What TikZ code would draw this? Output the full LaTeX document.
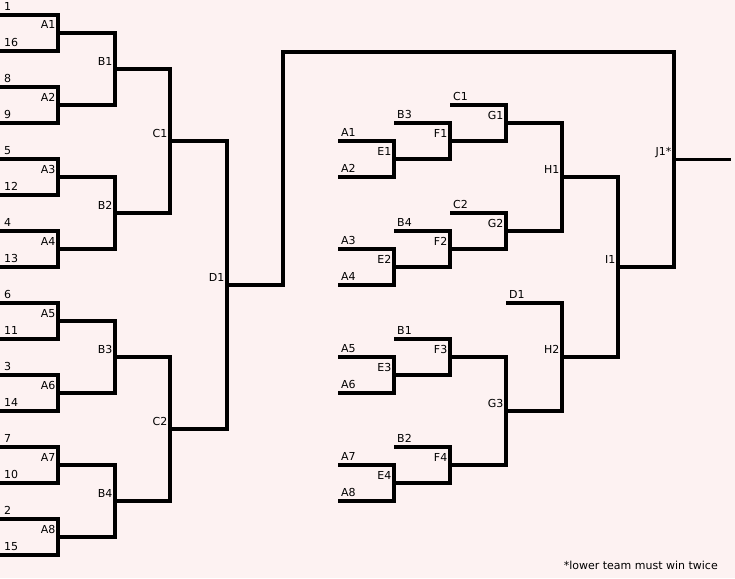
\documentclass[tikz,border=0pt]{standalone}
\usepackage{fontspec}
\setmainfont{DejaVu Sans}
\definecolor{bgpink}{RGB}{253,242,242}
\tikzset{
  bline/.style={line width=3.2pt, black, line join=miter, line cap=butt},
  mlabel/.style={inner sep=0pt, font=\fontsize{11}{13}\selectfont, text=black},
}
% #1 name, #2 x of inputs, #3 x of vertical, #4 top y, #5 bottom y, #6 label
\newcommand\mymatch[6]{%
  \coordinate (#1-it) at (#2,#4);
  \coordinate (#1-ib) at (#2,#5);
  \coordinate (#1) at (#3,{(#4+#5)/2});
  \draw[bline] (#1-it) -| (#1) |- (#1-ib);
  \node[mlabel, anchor=base east] (#1-l) at ([xshift=-2.5pt,yshift=4pt]#1) {#6};
}
% input label: #1 node name, #2 coordinate, #3 text, #4 xshift
\newcommand\inlabel[4]{%
  \node[mlabel, anchor=base west] (#1) at ([xshift=#4,yshift=4.3pt]#2) {#3};
}
\begin{document}
\begin{tikzpicture}[x=1pt, y=-1pt]
\fill[bgpink] (0,0) rectangle (735,578);
\useasboundingbox (0,0) rectangle (735,578);
% left half, first round
\mymatch{A1}{0}{58}{15}{51}{A1}
\mymatch{A2}{0}{58}{87}{123}{A2}
\mymatch{A3}{0}{58}{159}{195}{A3}
\mymatch{A4}{0}{58}{231}{267}{A4}
\mymatch{A5}{0}{58}{303}{339}{A5}
\mymatch{A6}{0}{58}{375}{411}{A6}
\mymatch{A7}{0}{58}{447}{483}{A7}
\mymatch{A8}{0}{58}{519}{555}{A8}
\inlabel{s1}{A1-it}{1}{4pt}
\inlabel{s16}{A1-ib}{16}{4pt}
\inlabel{s8}{A2-it}{8}{4pt}
\inlabel{s9}{A2-ib}{9}{4pt}
\inlabel{s5}{A3-it}{5}{4pt}
\inlabel{s12}{A3-ib}{12}{4pt}
\inlabel{s4}{A4-it}{4}{4pt}
\inlabel{s13}{A4-ib}{13}{4pt}
\inlabel{s6}{A5-it}{6}{4pt}
\inlabel{s11}{A5-ib}{11}{4pt}
\inlabel{s3}{A6-it}{3}{4pt}
\inlabel{s14}{A6-ib}{14}{4pt}
\inlabel{s7}{A7-it}{7}{4pt}
\inlabel{s10}{A7-ib}{10}{4pt}
\inlabel{s2}{A8-it}{2}{4pt}
\inlabel{s15}{A8-ib}{15}{4pt}
% left half, later rounds
\mymatch{B1}{58}{115}{33}{105}{B1}
\mymatch{B2}{58}{115}{177}{249}{B2}
\mymatch{B3}{58}{115}{321}{393}{B3}
\mymatch{B4}{58}{115}{465}{537}{B4}
\mymatch{C1}{115}{170}{69}{213}{C1}
\mymatch{C2}{115}{170}{357}{501}{C2}
\mymatch{D1}{170}{227}{141}{429}{D1}
% right half
\mymatch{E1}{338}{394}{141}{177}{E1}
\mymatch{E2}{338}{394}{249}{285}{E2}
\mymatch{E3}{338}{394}{357}{393}{E3}
\mymatch{E4}{338}{394}{465}{501}{E4}
\inlabel{rA1}{E1-it}{A1}{3pt}
\inlabel{rA2}{E1-ib}{A2}{3pt}
\inlabel{rA3}{E2-it}{A3}{3pt}
\inlabel{rA4}{E2-ib}{A4}{3pt}
\inlabel{rA5}{E3-it}{A5}{3pt}
\inlabel{rA6}{E3-ib}{A6}{3pt}
\inlabel{rA7}{E4-it}{A7}{3pt}
\inlabel{rA8}{E4-ib}{A8}{3pt}
\mymatch{F1}{394}{450}{123}{159}{F1}
\mymatch{F2}{394}{450}{231}{267}{F2}
\mymatch{F3}{394}{450}{339}{375}{F3}
\mymatch{F4}{394}{450}{447}{483}{F4}
\inlabel{rB3}{F1-it}{B3}{3pt}
\inlabel{rB4}{F2-it}{B4}{3pt}
\inlabel{rB1}{F3-it}{B1}{3pt}
\inlabel{rB2}{F4-it}{B2}{3pt}
\mymatch{G1}{450}{506}{105}{141}{G1}
\mymatch{G2}{450}{506}{213}{249}{G2}
\mymatch{G3}{450}{506}{357}{465}{G3}
\inlabel{rC1}{G1-it}{C1}{3pt}
\inlabel{rC2}{G2-it}{C2}{3pt}
\mymatch{H1}{506}{562}{123}{231}{H1}
\mymatch{H2}{506}{562}{303}{411}{H2}
\inlabel{rD1}{H2-it}{D1}{3pt}
\mymatch{I1}{562}{618}{177}{357}{I1}
% final
\coordinate (J1c) at (283,52);
\coordinate (J1) at (674,159.5);
\coordinate (J1b) at (618,267);
\coordinate (win) at (731,159.5);
\draw[bline] (D1) -| (J1c) -| (J1) |- (J1b);
\draw[bline] (J1) -- (win);
\node[mlabel, anchor=base east] (J1-l) at ([xshift=-2.5pt,yshift=4pt]J1) {J1*};
\node[mlabel, anchor=base east] (note) at (718,569) {*lower team must win twice};
\end{tikzpicture}
\end{document}
